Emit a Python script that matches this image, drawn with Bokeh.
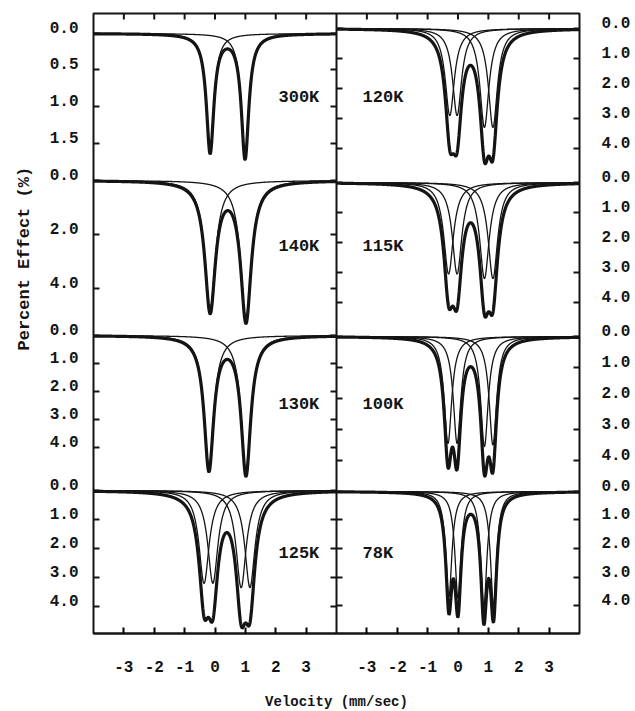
import numpy as np
from bokeh.plotting import figure
from bokeh.models import Range1d, LinearAxis, FixedTicker, Span, Title, ColumnDataSource
from bokeh.embed import file_html
from bokeh.resources import INLINE
from bokeh.core.properties import value

# ---------------- data ----------------
left_temps = ["300K", "140K", "130K", "125K"]
right_temps = ["120K", "115K", "100K", "78K"]

# Lorentzian lines of each fitted spectrum: centre (mm/sec), depth (%), half width (mm/sec)
line_centers = {
    "300K": [-0.16, 0.99],
    "140K": [-0.16, 1.02],
    "130K": [-0.20, 1.02],
    "125K": [-0.36, -0.07, 0.86, 1.15],
    "120K": [-0.27, -0.03, 0.87, 1.15],
    "115K": [-0.31, -0.03, 0.87, 1.15],
    "100K": [-0.33, -0.03, 0.87, 1.15],
    "78K":  [-0.30, 0.00, 0.85, 1.17],
}
line_depths = {
    "300K": [1.62, 1.70],
    "140K": [4.78, 5.15],
    "130K": [4.75, 4.92],
    "125K": [3.20, 3.20, 3.35, 3.35],
    "120K": [2.90, 2.90, 3.30, 3.30],
    "115K": [3.05, 3.05, 3.20, 3.20],
    "100K": [3.45, 3.45, 3.55, 3.50],
    "78K":  [3.70, 3.75, 4.05, 4.00],
}
line_halfwidths = {
    "300K": [0.15, 0.15],
    "140K": [0.21, 0.21],
    "130K": [0.19, 0.19],
    "125K": [0.20, 0.20, 0.20, 0.20],
    "120K": [0.18, 0.18, 0.18, 0.18],
    "115K": [0.19, 0.19, 0.19, 0.19],
    "100K": [0.15, 0.15, 0.15, 0.15],
    "78K":  [0.122, 0.122, 0.122, 0.122],
}

# y ticks (percent effect) of each panel
y_tick_values = {
    "300K": [0.0, 0.5, 1.0, 1.5],
    "140K": [0.0, 2.0, 4.0],
    "130K": [0.0, 1.0, 2.0, 3.0, 4.0],
    "125K": [0.0, 1.0, 2.0, 3.0, 4.0],
    "120K": [0.0, 1.0, 2.0, 3.0, 4.0],
    "115K": [0.0, 1.0, 2.0, 3.0, 4.0],
    "100K": [0.0, 1.0, 2.0, 3.0, 4.0],
    "78K":  [0.0, 1.0, 2.0, 3.0, 4.0],
}
x_tick_values = [-3, -2, -1, 0, 1, 2, 3]
x_tick_labels = ["-3", "-2", "-1", "0", "1", "2", "3"]

# ---------------- layout (pixels inside the frame) ----------------
FRAME_W, FRAME_H = 486, 620
COL_SPAN = 8.0          # velocity span of one column (-4 .. 4)
panel_baseline_px = {"300K": 20, "140K": 167, "130K": 322, "125K": 477,
                     "120K": 15, "115K": 169, "100K": 323, "78K": 478}
panel_px_per_pct = {"300K": 73, "140K": 27, "130K": 28, "125K": 29,
                    "120K": 30, "115K": 30, "100K": 31, "78K": 28.5}
label_row_px = [84, 233, 391, 540]
label_x = [2.09, 4.86]
LABEL_SHIFT = 6
TICK_LEN = 6 * (2 * COL_SPAN) / FRAME_W

FONT = "Liberation Mono"
INK = "#141414"

p = figure(frame_width=FRAME_W, frame_height=FRAME_H,
           x_range=Range1d(-4, 12), y_range=Range1d(FRAME_H, 0),
           y_axis_location=None, toolbar_location=None,
           output_backend="svg", min_border_left=93, min_border_right=56,
           min_border_top=13, min_border_bottom=78)
p.grid.visible = False
p.background_fill_color = "white"
p.border_fill_color = "white"
p.outline_line_color = INK
p.outline_line_width = 2
p.extra_x_ranges = {"right": Range1d(-4 - COL_SPAN, 12 - COL_SPAN)}
p.extra_y_ranges = {"lab": Range1d(FRAME_H + LABEL_SHIFT, LABEL_SHIFT)}

v = np.linspace(-4, 4, 1201)
for col, temps in enumerate([left_temps, right_temps]):
    xr = "default" if col == 0 else "right"
    for t in temps:
        b, s = panel_baseline_px[t], panel_px_per_pct[t]
        p.extra_y_ranges[t] = Range1d((FRAME_H - b) / s, -b / s)
        comps = [d / (1 + ((v - c) / w) ** 2)
                 for c, d, w in zip(line_centers[t], line_depths[t], line_halfwidths[t])]
        for comp in comps:
            p.line(v, comp, x_range_name=xr, y_range_name=t, line_color=INK, line_width=1.3)
        p.line(v, np.sum(comps, axis=0), x_range_name=xr, y_range_name=t,
               line_color=INK, line_width=3.2)

# bottom axis
xt = x_tick_values + [x + COL_SPAN for x in x_tick_values]
xl = x_tick_labels + x_tick_labels
p.xaxis.ticker = FixedTicker(ticks=xt)
p.xaxis.major_label_overrides = dict(zip(xt, xl))
p.xaxis.major_tick_in = 6
p.xaxis.major_tick_out = 0
p.xaxis.minor_tick_line_color = None
p.xaxis.major_tick_line_width = 2
p.xaxis.axis_line_width = 2
p.xaxis.axis_line_color = INK
p.xaxis.major_label_standoff = 27
p.xaxis.major_label_text_font = FONT
p.xaxis.major_label_text_font_size = "16px"
p.xaxis.major_label_text_font_style = "bold"
p.xaxis.major_label_text_color = INK
p.xaxis.axis_label = "Velocity (mm/sec)"
p.xaxis.axis_label_standoff = 19
p.xaxis.axis_label_text_font = FONT
p.xaxis.axis_label_text_font_size = "14px"
p.xaxis.axis_label_text_font_style = "bold"
p.xaxis.axis_label_text_color = INK

def tick_pos(temps):
    pos, lab = [], []
    for t in temps:
        for yv in y_tick_values[t]:
            pos.append(int(round(panel_baseline_px[t] + yv * panel_px_per_pct[t])))
            lab.append(f"{yv:.1f}")
    return pos, lab

lpos, llab = tick_pos(left_temps)
rpos, rlab = tick_pos(right_temps)

for side, pos, lab, standoff in [("left", lpos, llab, 15), ("right", rpos, rlab, 22)]:
    ax = LinearAxis(y_range_name="lab", ticker=FixedTicker(ticks=pos),
                    major_label_overrides=dict(zip(pos, lab)),
                    major_tick_line_color=None, minor_tick_line_color=None,
                    major_tick_in=0, major_tick_out=0, minor_tick_in=0, minor_tick_out=0,
                    axis_line_color=None, major_label_standoff=standoff,
                    major_label_text_font=FONT, major_label_text_font_size="16px",
                    major_label_text_font_style="bold", major_label_text_color=INK)
    p.add_layout(ax, side)

# y-axis title, placed along the left margin
p.add_layout(Title(text="Percent Effect (%)", align="left", offset=283,
                   vertical_align="top", standoff=22,
                   text_font=FONT, text_font_size="17px", text_font_style="bold",
                   text_color=INK), "left")

# inward tick marks on the frame edges and on the central divider
tx0, tx1, ty = [], [], []
for pos_list, x_edge, direction in [(lpos, -4, 1), (lpos, 4, -1), (rpos, 4, 1), (rpos, 12, -1)]:
    for y in pos_list:
        tx0.append(x_edge)
        tx1.append(x_edge + direction * TICK_LEN)
        ty.append(y)
p.segment(x0=tx0, x1=tx1, y0=ty, y1=ty, line_color=INK, line_width=2)
p.segment(x0=xt, x1=xt, y0=[0] * len(xt), y1=[6] * len(xt), line_color=INK, line_width=2)

p.add_layout(Span(location=4, dimension="height", line_color=INK, line_width=2))

# temperature labels
lab_src = ColumnDataSource(dict(
    x=[label_x[0]] * 4 + [label_x[1]] * 4,
    y=label_row_px * 2,
    text=left_temps + right_temps))
p.text(x="x", y="y", text="text", source=lab_src, text_font=value(FONT),
       text_font_size="17px", text_font_style="bold", text_color=INK,
       text_align="left", text_baseline="middle")

open("out.html", "w").write(file_html(p, INLINE))
